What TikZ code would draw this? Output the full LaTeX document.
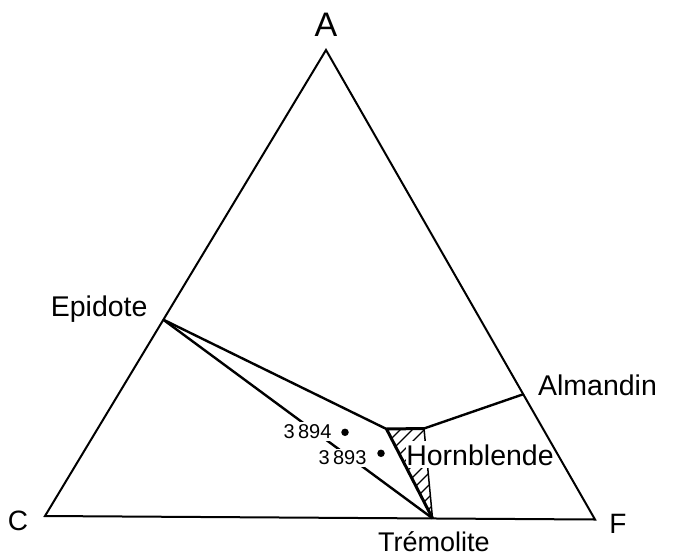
\documentclass[tikz,border=0pt]{standalone}
\usepackage{fontspec}
\setmainfont{Liberation Sans}
\usetikzlibrary{positioning,calc}
\tikzset{
    % Edges and tie lines
    triEdge/.style={line width=2pt, line join=miter},
    tieLine/.style={line width=2.4pt},
    hbLine/.style={line width=3pt, line join=miter},
    thinEdge/.style={line width=1.5pt},
    hatchLine/.style={line width=1.1pt},
    % Labels
    cornerLabel/.style={font=\fontsize{28}{30}\selectfont, inner sep=0pt},
    phaseLabel/.style={font=\fontsize{28.5}{30}\selectfont, inner sep=0pt},
    sampleLabel/.style={font=\fontsize{20}{22}\selectfont, fill=white, inner sep=2pt},
    sampleDot/.style={circle, fill, inner sep=0pt, minimum size=7.5pt}
}
\begin{document}
\begin{tikzpicture}[x=1pt, y=-1pt]
\useasboundingbox (0,0) rectangle (678,558);
% corners of the diagram
\coordinate (A) at (326,50);
\coordinate (C) at (45,516);
\coordinate (F) at (595,519.5);
% phases
\coordinate (ep) at (163,319.5);
\coordinate (alm) at (524,394);
\coordinate (tr) at (432.5,518.3);
\coordinate (hbW) at (386.5,429);
\coordinate (hbE) at (424,428.5);

% hatched hornblende field
\begin{scope}
    \clip (hbW) -- (hbE) -- (tr) -- cycle;
    \foreach \c in {806,818,...,950}
        \draw[hatchLine] (\c-540,540) -- (\c-380,380);
\end{scope}
\draw[thinEdge] (hbE) -- (tr);
\node[phaseLabel, fill=white, inner ysep=3pt, anchor=base] (hb) at (480,465) {Hornblende};

\draw[triEdge] (A) -- (C) -- (F) -- cycle;

% tie lines
\draw[tieLine] (ep) -- (tr);
\node[sampleLabel] (s94) at (307.5,431.5) {3\,894};
\node[sampleLabel] (s93) at (342.5,458) {3\,893};
\node[sampleDot] (d94) at (345,432.3) {};
\node[sampleDot] (d93) at (381,453.3) {};
\draw[tieLine] (ep) -- (hbW);
\draw[hbLine] (tr) -- (hbW) -- (hbE);
\draw[tieLine] (hbE) -- (alm);

% labels
\node[cornerLabel, font=\fontsize{34}{36}\selectfont, above=13pt of A] (lA) {A};
\node[cornerLabel] (lC) at (18,521) {C};
\node[cornerLabel] (lF) at (618,524) {F};
\node[phaseLabel, anchor=base] (lEp) at (99.2,316.5) {Epidote};
\node[phaseLabel, anchor=base] (lAlm) at (597.5,395) {Almandin};
\node[phaseLabel, font=\fontsize{27}{29}\selectfont, anchor=base] (lTr) at (434,551.7) {Trémolite};
\end{tikzpicture}
\end{document}
